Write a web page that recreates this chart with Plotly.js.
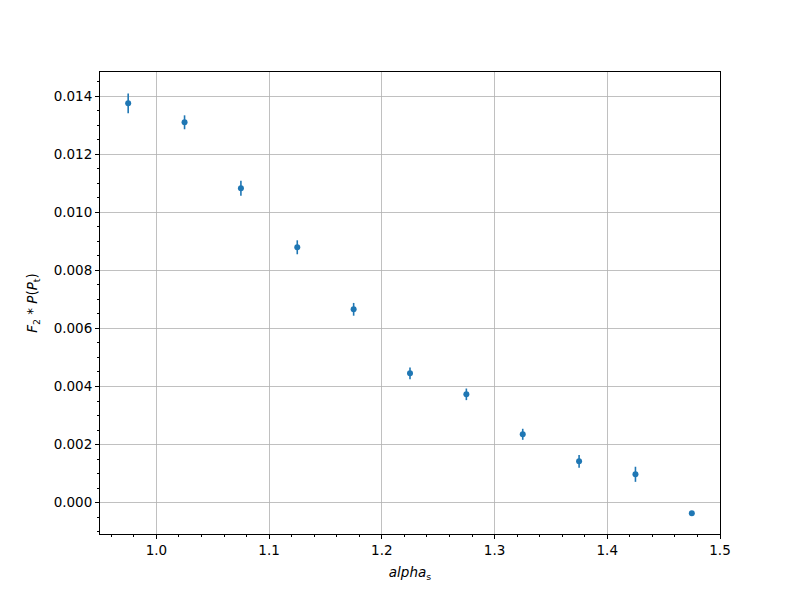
<!DOCTYPE html>
<html>
<head>
<meta charset="utf-8">
<script src="https://cdn.plot.ly/plotly-3.0.1.min.js"></script>
<style>html,body{margin:0;padding:0;background:#fff;}#chart{width:800px;height:600px;}</style>
</head>
<body>
<div id="chart"></div>
<script>
const alphaS = [0.975, 1.025, 1.075, 1.125, 1.175, 1.225, 1.275, 1.325, 1.375, 1.425, 1.475];
const f2P = [0.013749, 0.013095, 0.010823, 0.008792, 0.006657, 0.004454, 0.003731, 0.002355, 0.001425, 0.000978, -0.000365];
const f2PErr = [0.00034, 0.00024, 0.00026, 0.00024, 0.00022, 0.00020, 0.00020, 0.00019, 0.00022, 0.00026, 0.00003];

const blue = '#1f77b4';
const trace = {
  x: alphaS, y: f2P, type: 'scatter', mode: 'markers',
  marker: {color: blue, size: 6},
  error_y: {type: 'data', array: f2PErr, visible: true, color: blue, thickness: 1.6, width: 0},
  hoverinfo: 'skip'
};
const font = {family: 'DejaVu Sans, sans-serif', size: 13.5, color: '#000'};
const axisCommon = {
  showline: true, mirror: true, linecolor: '#000', linewidth: 1,
  ticks: 'outside', ticklen: 4, tickwidth: 1, tickcolor: '#000',
  showgrid: true, gridcolor: '#b0b0b0', gridwidth: 0.8,
  zeroline: false, tickfont: font
};
const layout = {
  width: 800, height: 600,
  margin: {l: 100, r: 80, t: 72, b: 66},
  paper_bgcolor: '#fff', plot_bgcolor: '#fff',
  showlegend: false,
  font: font,
  xaxis: Object.assign({}, axisCommon, {
    range: [0.95, 1.5], tick0: 1.0, dtick: 0.1, tickformat: '.1f',
    minor: {dtick: 0.02, tick0: 1.0, ticks: 'outside', ticklen: 2, tickcolor: '#000', showgrid: false},
    title: {text: '<i>alpha</i><sub>s</sub>', font: font, standoff: 10}
  }),
  yaxis: Object.assign({}, axisCommon, {
    range: [-0.001077, 0.014826], tick0: 0, dtick: 0.002, tickformat: '.3f',
    minor: {dtick: 0.0005, tick0: 0, ticks: 'outside', ticklen: 2, tickcolor: '#000', showgrid: false},
    title: {text: '<i>F</i><sub>2</sub> * <i>P</i>(<i>P</i><sub>t</sub>)', font: font, standoff: 12}
  })
};
Plotly.newPlot('chart', [trace], layout, {displayModeBar: false, staticPlot: true});
</script>
</body>
</html>
